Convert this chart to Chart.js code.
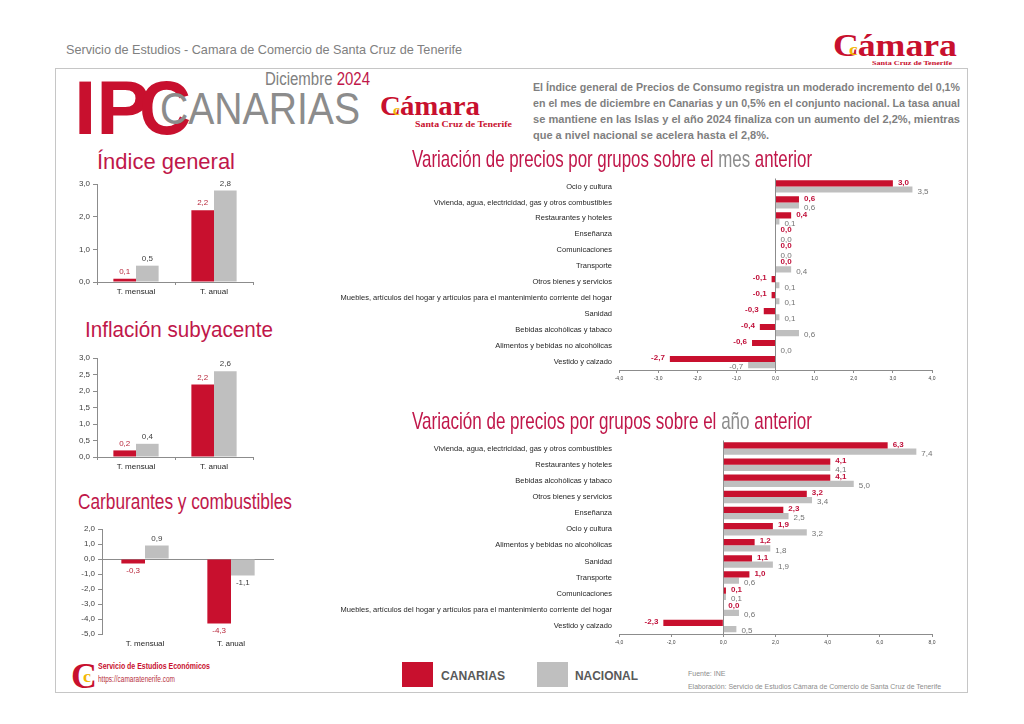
<!DOCTYPE html>
<html>
<head>
<meta charset="utf-8">
<script src="https://cdn.jsdelivr.net/npm/chart.js@4"></script>
<style>
  body { margin: 0; background: #fff; font-family: "Liberation Sans", Arial, sans-serif; }
  #page { position: relative; width: 1024px; height: 724px; overflow: hidden; }
  .t { position: absolute; white-space: nowrap; line-height: 1; transform-origin: 0 0; }
  .serif { font-family: "Liberation Serif", "DejaVu Serif", serif; font-weight: bold; }
  canvas { position: absolute; }
  .box { position: absolute; }
</style>
</head>
<body>
<div id="page">
  <div class="box" style="left:55px;top:68px;width:911px;height:623px;border:1.5px solid #c6c6c6;"></div>
  <canvas id="c1" width="210" height="124" style="left:55px;top:176px"></canvas>
  <canvas id="c2" width="210" height="125" style="left:55px;top:350px"></canvas>
  <canvas id="c3" width="230" height="132" style="left:55px;top:521px"></canvas>
  <canvas id="r1" width="645" height="218" style="left:300px;top:167px"></canvas>
  <canvas id="r2" width="645" height="220" style="left:300px;top:429px"></canvas>
  <div class="box" style="left:402px;top:662px;width:31px;height:25px;background:#C8102E"></div>
  <div class="box" style="left:537px;top:662px;width:31px;height:25px;background:#BFBFBF"></div>
</div>
<script>
// datos
const tasas = ['T. mensual', 'T. anual'];
const generalCanarias = [0.1, 2.2];
const generalNacional = [0.5, 2.8];
const subyCanarias = [0.2, 2.2];
const subyNacional = [0.4, 2.6];
const carbCanarias = [-0.3, -4.3];
const carbNacional = [0.9, -1.1];

const gruposMes = ['Ocio y cultura', 'Vivienda, agua, electricidad, gas y otros combustibles', 'Restaurantes y hoteles',
  'Enseñanza', 'Comunicaciones', 'Transporte', 'Otros bienes y servicios',
  'Muebles, artículos del hogar y artículos para el mantenimiento corriente del hogar', 'Sanidad',
  'Bebidas alcohólicas y tabaco', 'Alimentos y bebidas no alcohólicas', 'Vestido y calzado'];
const mesCanarias = [3.0, 0.6, 0.4, 0.0, 0.0, 0.0, -0.1, -0.1, -0.3, -0.4, -0.6, -2.7];
const mesNacional = [3.5, 0.6, 0.1, 0.0, 0.0, 0.4, 0.1, 0.1, 0.1, 0.6, 0.0, -0.7];

const gruposAnio = ['Vivienda, agua, electricidad, gas y otros combustibles', 'Restaurantes y hoteles',
  'Bebidas alcohólicas y tabaco', 'Otros bienes y servicios', 'Enseñanza', 'Ocio y cultura',
  'Alimentos y bebidas no alcohólicas', 'Sanidad', 'Transporte', 'Comunicaciones',
  'Muebles, artículos del hogar y artículos para el mantenimiento corriente del hogar', 'Vestido y calzado'];
const anioCanarias = [6.3, 4.1, 4.1, 3.2, 2.3, 1.9, 1.2, 1.1, 1.0, 0.1, 0.0, -2.3];
const anioNacional = [7.4, 4.1, 5.0, 3.4, 2.5, 3.2, 1.8, 1.9, 0.6, 0.1, 0.6, 0.5];

const ROJO = '#C8102E';
const GRIS = '#BFBFBF';
const TITULO = '#C0174A';
const fmt = v => v.toFixed(1).replace('.', ',');

// textos sueltos de la lamina
const page = document.getElementById('page');
function txt(html, x, base, size, opt = {}) {
  const d = document.createElement('div');
  d.className = 't' + (opt.serif ? ' serif' : '');
  d.innerHTML = html;
  d.style.left = x + 'px';
  d.style.top = (base - size * (opt.serif ? 0.84 : 0.85)) + 'px';
  d.style.fontSize = size + 'px';
  d.style.color = opt.color || '#808080';
  if (opt.bold) d.style.fontWeight = 'bold';
  page.appendChild(d);
  if (opt.w) {
    const w = d.getBoundingClientRect().width;
    d.style.transform = 'scaleX(' + (opt.w / w) + ')';
  }
  return d;
}

txt('Servicio de Estudios - Camara de Comercio de Santa Cruz de Tenerife', 66, 54, 13, { w: 396 });

// logo superior derecho
const logoC = '<span style="color:' + ROJO + '">C</span><span style="color:#F2B705;font-size:0.55em;margin-left:-0.5em;position:relative;top:-0.05em">c</span>ámara';
txt(logoC, 833, 56, 32, { serif: true, color: ROJO, w: 124 });
txt('Santa Cruz de Tenerife', 872, 66, 7, { serif: true, color: ROJO, w: 80 });

// cabecera IPC
txt('IP', 74, 135, 76, { bold: true, color: ROJO, w: 76 });
txt('C', 139, 135, 76, { bold: true, color: ROJO, w: 52 });
txt('CANARIAS', 160, 124, 45, { color: '#8C8C8C', w: 200 });
txt('Diciembre <span style="color:' + TITULO + '">2024</span>', 265, 85, 18, { color: '#808080', w: 105 });
txt(logoC, 380, 116, 27, { serif: true, color: ROJO, w: 100 });
txt('Santa Cruz de Tenerife', 415, 127, 8.5, { serif: true, color: ROJO, w: 97 });

const parrafo = [
  'El Índice general de Precios de Consumo registra un moderado incremento del 0,1%',
  'en el mes de diciembre en Canarias y un 0,5% en el conjunto nacional. La tasa anual',
  'se mantiene en las Islas y el año 2024 finaliza con un aumento del 2,2%, mientras',
  'que a nivel nacional se acelera hasta el 2,8%.'
];
let escala = 1;
parrafo.forEach((l, i) => {
  const d = txt(l, 533, 91 + i * 16, 11, { bold: true, color: '#7F7F7F', w: i < 3 ? 427 : null });
  if (i === 0) escala = 427 / d.getBoundingClientRect().width;
  if (i === 3) d.style.transform = 'scaleX(' + escala + ')';
});

txt('Índice general', 97, 170, 22, { color: TITULO, w: 138 });
txt('Inflación subyacente', 85, 338, 22, { color: TITULO, w: 188 });
txt('Carburantes y combustibles', 78, 510, 22, { color: TITULO, w: 214 });
txt('Variación de precios por grupos sobre el <span style="color:#8C8C8C">mes</span> anterior', 412, 167, 24, { color: TITULO, w: 400 });
txt('Variación de precios por grupos sobre el <span style="color:#8C8C8C">año</span> anterior', 412, 429, 24, { color: TITULO, w: 400 });

// pie
txt('C', 71, 688, 36, { serif: true, color: ROJO, w: 26 });
txt('c', 83, 682, 16, { serif: true, color: '#F2B705', w: 8 });
txt('Servicio de Estudios Económicos', 98, 670, 9, { bold: true, color: ROJO, w: 112 });
txt('https://camaratenerife.com', 98, 682, 8.5, { color: '#B83040', w: 77 });
txt('CANARIAS', 441, 680, 13, { bold: true, color: '#595959', w: 64 });
txt('NACIONAL', 575, 680, 13, { bold: true, color: '#595959', w: 63 });
txt('Fuente: INE', 688, 676, 7, { color: '#8C8C8C' });
txt('Elaboración: Servicio de Estudios Cámara de Comercio de Santa Cruz de Tenerife', 688, 689, 7, { color: '#8C8C8C', w: 253 });

// etiquetas de valor
const valueLabels = {
  id: 'valueLabels',
  afterDatasetsDraw(chart, args, opts) {
    const ctx = chart.ctx;
    const horiz = chart.options.indexAxis === 'y';
    chart.data.datasets.forEach((ds, di) => {
      const st = opts.styles[di];
      const meta = chart.getDatasetMeta(di);
      ctx.save();
      ctx.font = st.font;
      ctx.fillStyle = st.color;
      meta.data.forEach((bar, i) => {
        const v = ds.data[i];
        if (horiz) {
          ctx.textBaseline = 'middle';
          ctx.textAlign = v < 0 ? 'right' : 'left';
          ctx.fillText(fmt(v), bar.x + (v < 0 ? -st.dx : st.dx), bar.y + st.dy);
        } else {
          ctx.textAlign = 'center';
          ctx.textBaseline = v < 0 ? 'top' : 'bottom';
          ctx.fillText(fmt(v), bar.x, bar.y + (v < 0 ? 3 : -3));
        }
      });
      ctx.restore();
    });
  }
};

Chart.defaults.font.family = '"Liberation Sans", Arial, sans-serif';
Chart.defaults.color = '#404040';

function tasaChart(id, can, nac, min, max, step, opt) {
  const zeroLine = min < 0;
  return new Chart(document.getElementById(id), {
    type: 'bar',
    data: {
      labels: tasas,
      datasets: [
        { data: can, backgroundColor: ROJO, barPercentage: 1, categoryPercentage: opt.cp },
        { data: nac, backgroundColor: GRIS, barPercentage: 1, categoryPercentage: opt.cp }
      ]
    },
    options: {
      responsive: false,
      animation: false,
      layout: { padding: { top: 8, right: opt.right, left: 0, bottom: 0 } },
      plugins: {
        legend: { display: false },
        tooltip: { enabled: false },
        valueLabels: { styles: [
          { font: '8px "Liberation Sans"', color: '#B8283C' },
          { font: '8px "Liberation Sans"', color: '#404040' }
        ] }
      },
      scales: {
        x: {
          afterFit: s => { s.height = opt.xh; },
          border: { display: !zeroLine, color: '#8C8C8C' },
          grid: { display: !zeroLine, drawOnChartArea: false, offset: true, tickLength: 3, color: '#8C8C8C' },
          ticks: { font: { size: 8 }, color: '#262626', padding: 2 }
        },
        y: {
          min: min, max: max,
          afterFit: s => { s.width = opt.yw; },
          border: { color: '#8C8C8C' },
          grid: {
            drawOnChartArea: zeroLine,
            color: c => (c.tick && c.tick.value === 0 && zeroLine) ? '#8C8C8C' : 'rgba(0,0,0,0)',
            tickColor: '#8C8C8C',
            tickLength: 4
          },
          ticks: { stepSize: step, font: { size: 8 }, color: '#404040', padding: 3, callback: v => fmt(v) }
        }
      }
    },
    plugins: [valueLabels]
  });
}

tasaChart('c1', generalCanarias, generalNacional, 0, 3, 1, { cp: 0.58, right: 12, xh: 18, yw: 42 });
tasaChart('c2', subyCanarias, subyNacional, 0, 3, 0.5, { cp: 0.58, right: 12, xh: 18, yw: 42 });
tasaChart('c3', carbCanarias, carbNacional, -5, 2, 1, { cp: 0.55, right: 11, xh: 19, yw: 47 });

function gruposChart(id, labels, can, nac, min, max, step, top) {
  return new Chart(document.getElementById(id), {
    type: 'bar',
    data: {
      labels: labels,
      datasets: [
        { data: can, backgroundColor: ROJO, barPercentage: 1, categoryPercentage: 0.77 },
        { data: nac, backgroundColor: GRIS, barPercentage: 1, categoryPercentage: 0.77 }
      ]
    },
    options: {
      indexAxis: 'y',
      responsive: false,
      animation: false,
      layout: { padding: { top: top, right: 13, left: 0, bottom: 0 } },
      plugins: {
        legend: { display: false },
        tooltip: { enabled: false },
        valueLabels: { styles: [
          { font: 'bold 8px "Liberation Sans"', color: '#C0103A', dx: 5, dy: -1 },
          { font: '8px "Liberation Sans"', color: '#737373', dx: 5, dy: 2 }
        ] }
      },
      scales: {
        x: {
          min: min, max: max,
          afterFit: s => { s.height = 15; },
          border: { color: '#8C8C8C' },
          grid: {
            color: c => (c.tick && c.tick.value === 0) ? '#8C8C8C' : 'rgba(0,0,0,0)',
            tickColor: '#8C8C8C',
            tickLength: 3
          },
          ticks: { stepSize: step, font: { size: 5 }, color: '#404040', padding: 3, callback: v => fmt(v) }
        },
        y: {
          afterFit: s => { s.width = 319; },
          border: { display: false },
          grid: { display: false, drawTicks: false, tickLength: 0 },
          ticks: { autoSkip: false, font: { size: 7.5 }, color: '#262626', padding: 7 }
        }
      }
    },
    plugins: [valueLabels]
  });
}

gruposChart('r1', gruposMes, mesCanarias, mesNacional, -4, 4, 1, 4);
gruposChart('r2', gruposAnio, anioCanarias, anioNacional, -4, 8, 2, 6);
</script>
</body>
</html>
